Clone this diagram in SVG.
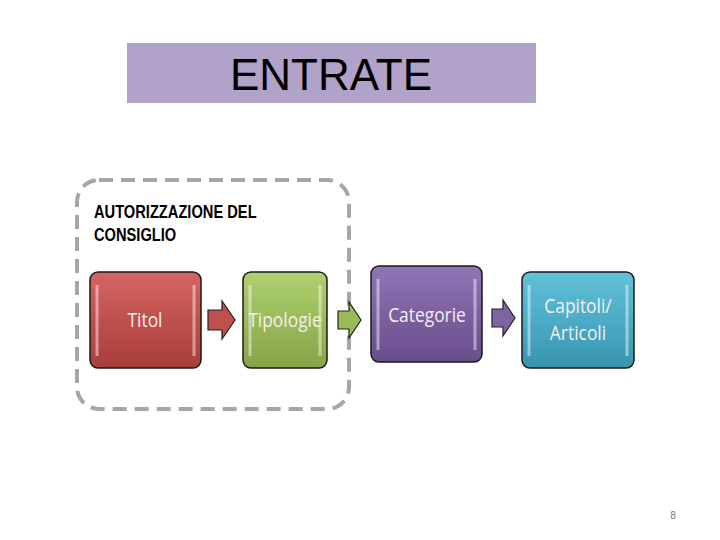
<svg xmlns="http://www.w3.org/2000/svg" width="720" height="540" viewBox="0 0 720 540">
<style>
.box{stroke:#1a1a1a;stroke-width:1.5}
.lbl{font-family:"Open Sans","Liberation Sans",sans-serif;font-size:20px;fill:#f4f0f0;text-anchor:middle}
.arr{stroke:#222;stroke-width:1.2}
.hl{fill:none;stroke:#ffffff;stroke-opacity:0.45;stroke-width:3}
.hd{font-family:"Liberation Sans",Arial,sans-serif;font-weight:bold;font-size:18px;fill:#000}
</style>
<defs>
<linearGradient id="gr" x1="0" y1="0" x2="0" y2="1"><stop offset="0" stop-color="#d36663"/><stop offset="0.5" stop-color="#c0504d"/><stop offset="1" stop-color="#a63f3c"/></linearGradient>
<linearGradient id="gg" x1="0" y1="0" x2="0" y2="1"><stop offset="0" stop-color="#aed070"/><stop offset="0.5" stop-color="#9bbb59"/><stop offset="1" stop-color="#84a448"/></linearGradient>
<linearGradient id="gp" x1="0" y1="0" x2="0" y2="1"><stop offset="0" stop-color="#9077b4"/><stop offset="0.5" stop-color="#7d60a0"/><stop offset="1" stop-color="#6a4e8c"/></linearGradient>
<linearGradient id="gt" x1="0" y1="0" x2="0" y2="1"><stop offset="0" stop-color="#62c0d8"/><stop offset="0.5" stop-color="#4bacc6"/><stop offset="1" stop-color="#3894ad"/></linearGradient>
</defs>
<rect width="720" height="540" fill="#ffffff"/>
<g id="title">
<rect x="127" y="43" width="409" height="60" fill="#b0a2c8"/>
<text x="331" y="90" font-family="Liberation Sans, Arial, sans-serif" font-size="44" text-anchor="middle" fill="#000">ENTRATE</text>
</g>
<g id="group-consiglio">
<rect x="77" y="180" width="272" height="229" rx="22" fill="none" stroke="#a6a6a6" stroke-width="4" stroke-dasharray="14 8"/>
<text class="hd" transform="translate(94 218) scale(0.815 1)">AUTORIZZAZIONE  DEL</text>
<text class="hd" transform="translate(94 241) scale(0.815 1)">CONSIGLIO</text>
</g>
<g id="connectors">
<path class="arr" d="M208 310 H222 V301 L235 320 L222 339 V330 H208 Z" fill="#c0504d"/>
<path class="arr" d="M338 311 H349 V302 L361 320 L349 338 V329 H338 Z" fill="#9bbb59"/>
<path class="arr" d="M492 309 H503 V300 L515 318 L503 336 V327 H492 Z" fill="#8064a2"/>
</g>
<g id="node-titol">
<rect class="box" x="90" y="272" width="111" height="96" rx="8" fill="url(#gr)"/>
<path class="hl" d="M97 285 V356 M194 285 V356"/>
<text class="lbl" transform="translate(145 327) scale(0.87 1)">Titol</text>
</g>
<g id="node-tipologie">
<rect class="box" x="243" y="272" width="84" height="96" rx="8" fill="url(#gg)"/>
<path class="hl" d="M250 285 V356 M320 285 V356"/>
<text class="lbl" transform="translate(285 327) scale(0.87 1)">Tipologie</text>
</g>
<g id="node-categorie">
<rect class="box" x="371" y="266" width="111" height="96" rx="8" fill="url(#gp)"/>
<path class="hl" d="M378 279 V350 M475 279 V350"/>
<text class="lbl" transform="translate(427 322) scale(0.87 1)">Categorie</text>
</g>
<g id="node-capitoli">
<rect class="box" x="522" y="272" width="112" height="96" rx="8" fill="url(#gt)"/>
<path class="hl" d="M529 285 V356 M627 285 V356"/>
<text class="lbl" transform="translate(578 313) scale(0.87 1)">Capitoli/</text>
<text class="lbl" transform="translate(578 340) scale(0.87 1)">Articoli</text>
</g>
<text x="673" y="519" font-family="Liberation Sans, Arial, sans-serif" font-size="10" fill="#777" text-anchor="middle">8</text>
</svg>
